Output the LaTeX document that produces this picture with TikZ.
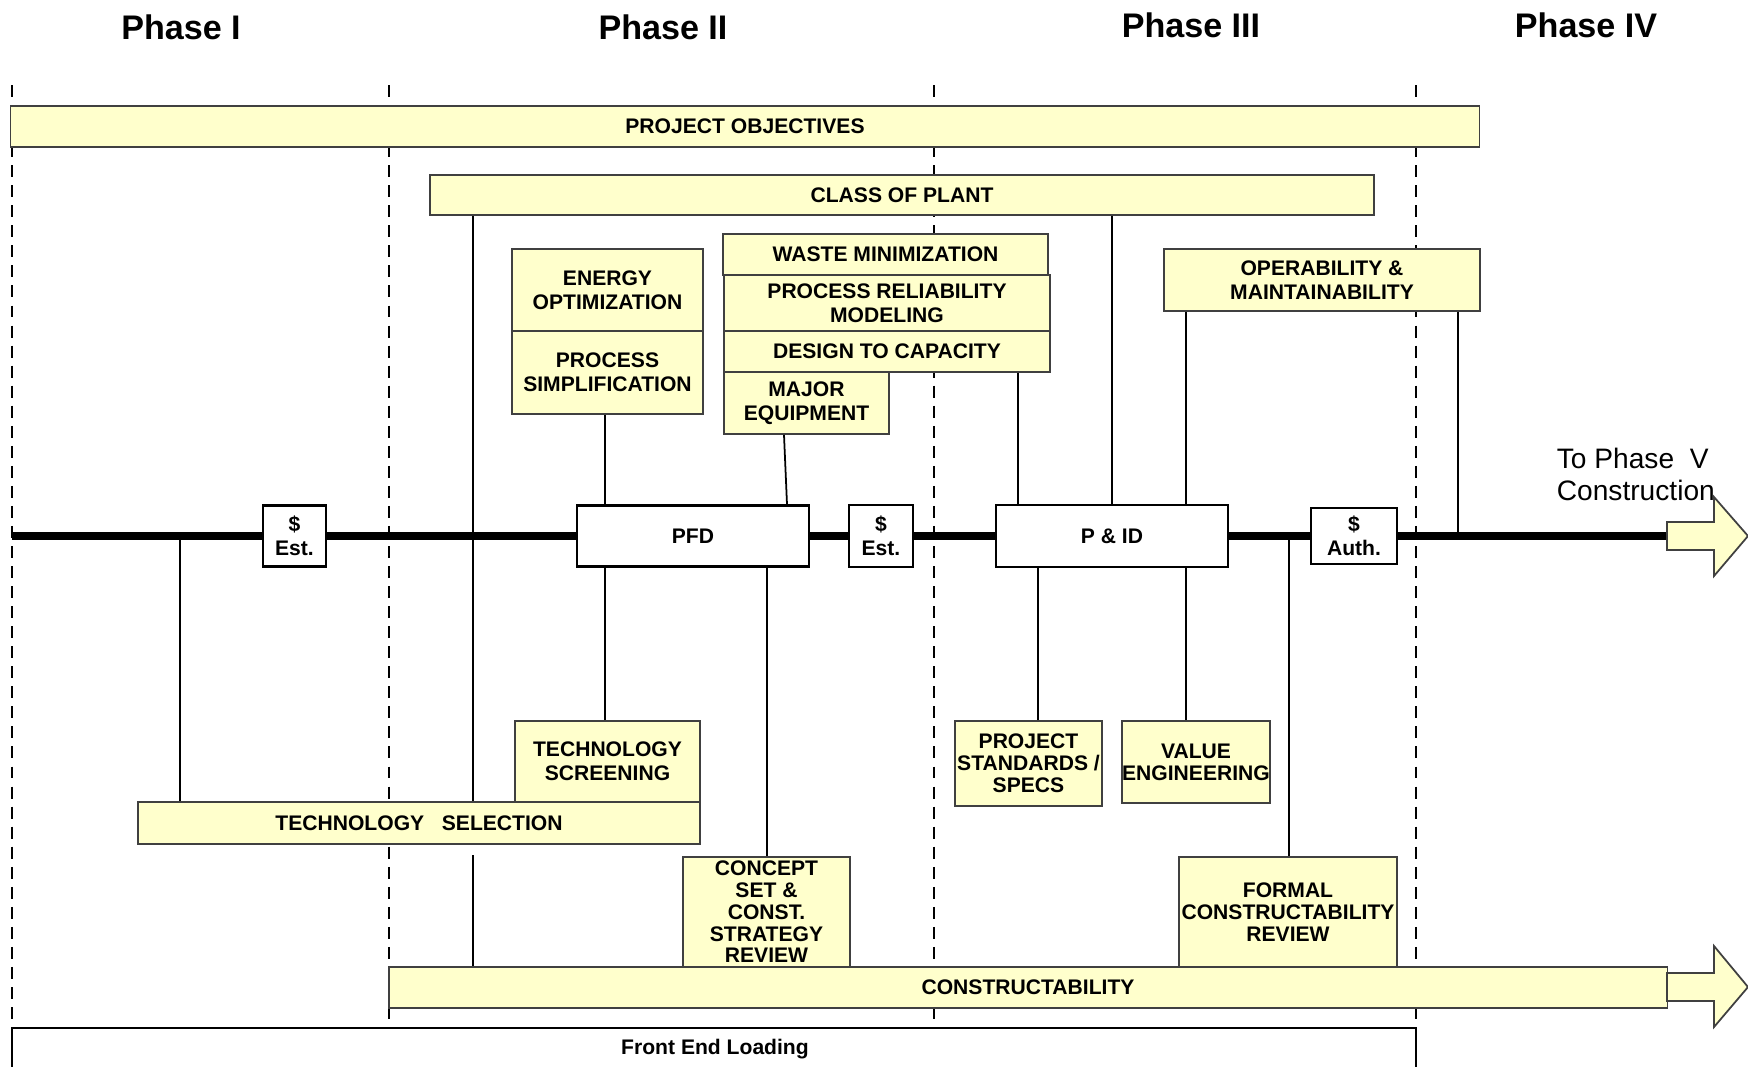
\documentclass[tikz,border=0pt]{standalone}
\usepackage{fontspec}
\setmainfont{Liberation Sans}
\definecolor{PaleYellow}{HTML}{FFFFCC}
\definecolor{EdgeGray}{HTML}{404040}
\newcommand\nodepo{PROJECT OBJECTIVES}
\newcommand\nodeplant{CLASS OF PLANT}
\newcommand\nodeenergy{ENERGY\\OPTIMIZATION}
\newcommand\nodesimpl{PROCESS\\SIMPLIFICATION}
\newcommand\nodewaste{WASTE MINIMIZATION}
\newcommand\nodereliab{PROCESS RELIABILITY\\MODELING}
\newcommand\nodecapac{DESIGN TO CAPACITY}
\newcommand\nodeequip{MAJOR\\EQUIPMENT}
\newcommand\nodeoperab{OPERABILITY \&\\MAINTAINABILITY}
\newcommand\nodescreen{TECHNOLOGY\\SCREENING}
\newcommand\nodetechsel{TECHNOLOGY\ \ \ SELECTION}
\newcommand\nodeconcept{CONCEPT\\SET \&\\CONST.\\STRATEGY\\REVIEW}
\newcommand\nodestds{PROJECT\\STANDARDS /\\SPECS}
\newcommand\nodevalue{VALUE\\ENGINEERING}
\newcommand\nodeformal{FORMAL\\CONSTRUCTABILITY\\REVIEW}
\newcommand\nodecons{CONSTRUCTABILITY}
\tikzstyle{yb} = [rectangle, draw=EdgeGray, fill=PaleYellow, line width=0.5pt, inner sep=0pt, align=center, font=\bfseries\fontsize{6}{6.8}\selectfont]
\tikzstyle{wb} = [rectangle, draw=black, fill=white, line width=0.7pt, inner sep=0pt, align=center, font=\bfseries\fontsize{6}{6.8}\selectfont]
\tikzstyle{tight} = [font=\bfseries\fontsize{6}{6.2}\selectfont]
\tikzstyle{ph} = [font=\bfseries\fontsize{9.7}{11}\selectfont]
\tikzstyle{phaseline} = [dash pattern=on 3.4pt off 2.3pt, line width=0.4pt]
\tikzstyle{timeline} = [line width=2.4pt]
\tikzstyle{bigarrow} = [draw=EdgeGray, fill=PaleYellow, line width=0.5pt]
\tikzset{every picture/.style={line width=0.5pt}}
\begin{document}
\begin{tikzpicture}[x=0.01cm, y=-0.01cm]
\useasboundingbox (0,0) rectangle (1748,1066);
% phase borders
\draw[phaseline] (12,85) -- (12,1028);
\draw[phaseline] (389,85) -- (389,1028);
\draw[phaseline] (934,85) -- (934,1028);
\draw[phaseline] (1416,85) -- (1416,1028);
\node[ph] (p1) at (181,27) {Phase I};
\node[ph] (p2) at (663,27) {Phase II};
\node[ph] (p3) at (1191,25) {Phase III};
\node[ph] (p4) at (1586,25) {Phase IV};
% upper boxes
\node[yb, minimum width=146.8mm, minimum height=4.1mm] (po) at (745,126.5) {\nodepo};
\node[yb, minimum width=94.4mm, minimum height=4mm] (plant) at (902,195) {\nodeplant};
\node[yb, minimum width=19.1mm, minimum height=8.2mm] (energy) at (607.5,290) {\nodeenergy};
\node[yb, minimum width=19.1mm, minimum height=8.3mm] (simpl) at (607.5,372.5) {\nodesimpl};
\node[yb, minimum width=32.5mm, minimum height=4.1mm] (waste) at (885.5,254.5) {\nodewaste};
\node[yb, minimum width=32.6mm, minimum height=5.6mm] (reliab) at (887,303) {\nodereliab};
\node[yb, minimum width=32.6mm, minimum height=4.1mm] (capac) at (887,351.5) {\nodecapac};
\node[yb, minimum width=16.5mm, minimum height=6.2mm] (equip) at (806.5,403) {\nodeequip};
\node[yb, minimum width=31.6mm, minimum height=6.2mm] (operab) at (1322,280) {\nodeoperab};
% time line
\coordinate (tlstart) at (12,536);
\coordinate (tlend) at (1667,536);
\node[wb, minimum width=6.3mm, minimum height=6.1mm] (est1) at (294.5,536) {\$\\Est.};
\node[wb, minimum width=23.2mm, minimum height=6.1mm] (pfd) at (693,536) {PFD};
\node[wb, minimum width=6.4mm, minimum height=6.2mm] (est2) at (881,536) {\$\\Est.};
\node[wb, minimum width=23.2mm, minimum height=6.2mm] (pid) at (1112,536) {P \& ID};
\node[wb, minimum width=8.6mm, minimum height=5.6mm] (auth) at (1354,536) {\$\\Auth.};
\draw[timeline] (tlstart) -- (est1) (est1) -- (pfd) (pfd) -- (est2) (est2) -- (pid) (pid) -- (auth) (auth) -- (tlend);
\draw[bigarrow] (1667,522) -- (1714,522) -- (1714,497) -- (1748,536) -- (1714,576) -- (1714,550) -- (1667,550) -- cycle;
\node[font=\fontsize{8}{9.1}\selectfont, align=left, anchor=west, inner sep=0pt] (next) at (1556,474) {To Phase\ \ V\\Construction};
% lower boxes
\node[yb, minimum width=18.5mm, minimum height=8.1mm] (screen) at (607.5,761.5) {\nodescreen};
\node[yb, minimum width=56.2mm, minimum height=4.2mm] (techsel) at (419,823) {\nodetechsel};
\node[yb, tight, minimum width=16.7mm, minimum height=11mm] (concept) at (766.5,912) {\nodeconcept};
\node[yb, tight, minimum width=14.7mm, minimum height=8.5mm] (stds) at (1028.5,763.5) {\nodestds};
\node[yb, tight, minimum width=14.6mm, minimum height=8.2mm] (value) at (1196,762) {\nodevalue};
\node[yb, tight, minimum width=21.8mm, minimum height=11mm] (formal) at (1288,912) {\nodeformal};
\node[yb, minimum width=127.8mm, minimum height=4.1mm] (cons) at (1028,987.5) {\nodecons};
\draw[bigarrow] (1667,973) -- (1714,973) -- (1714,946) -- (1748,987) -- (1714,1027) -- (1714,1001) -- (1667,1001) -- cycle;
\coordinate (gap) at (473,855);
% links
\draw (473,0 |- plant.south) -- (473,0 |- techsel.north);
\draw (gap) -- (gap |- cons.north);
\draw (605,0 |- simpl.south) -- (605,0 |- pfd.north);
\draw (784,0 |- equip.south) -- (787,0 |- pfd.north);
\draw (1018,0 |- capac.south) -- (1018,0 |- pid.north);
\draw (pid.north |- plant.south) -- (pid.north);
\draw (1186,0 |- operab.south) -- (1186,0 |- pid.north);
\draw (1458,0 |- operab.south) -- (1458,0 |- tlend);
\draw (180,0 |- tlstart) -- (180,0 |- techsel.north);
\draw (605,0 |- pfd.south) -- (605,0 |- screen.north);
\draw (767,0 |- pfd.south) -- (767,0 |- concept.north);
\draw (1038,0 |- pid.south) -- (1038,0 |- stds.north);
\draw (1186,0 |- pid.south) -- (1186,0 |- value.north);
\draw (1289,0 |- tlend) -- (1289,0 |- formal.north);
% front end loading
\draw[line width=0.8pt] (12,1070) -- (12,1028) -- (1416,1028) -- (1416,1070);
\node[font=\bfseries\fontsize{6}{7}\selectfont] (fel) at (715,1049) {Front End Loading};
\end{tikzpicture}
\end{document}
